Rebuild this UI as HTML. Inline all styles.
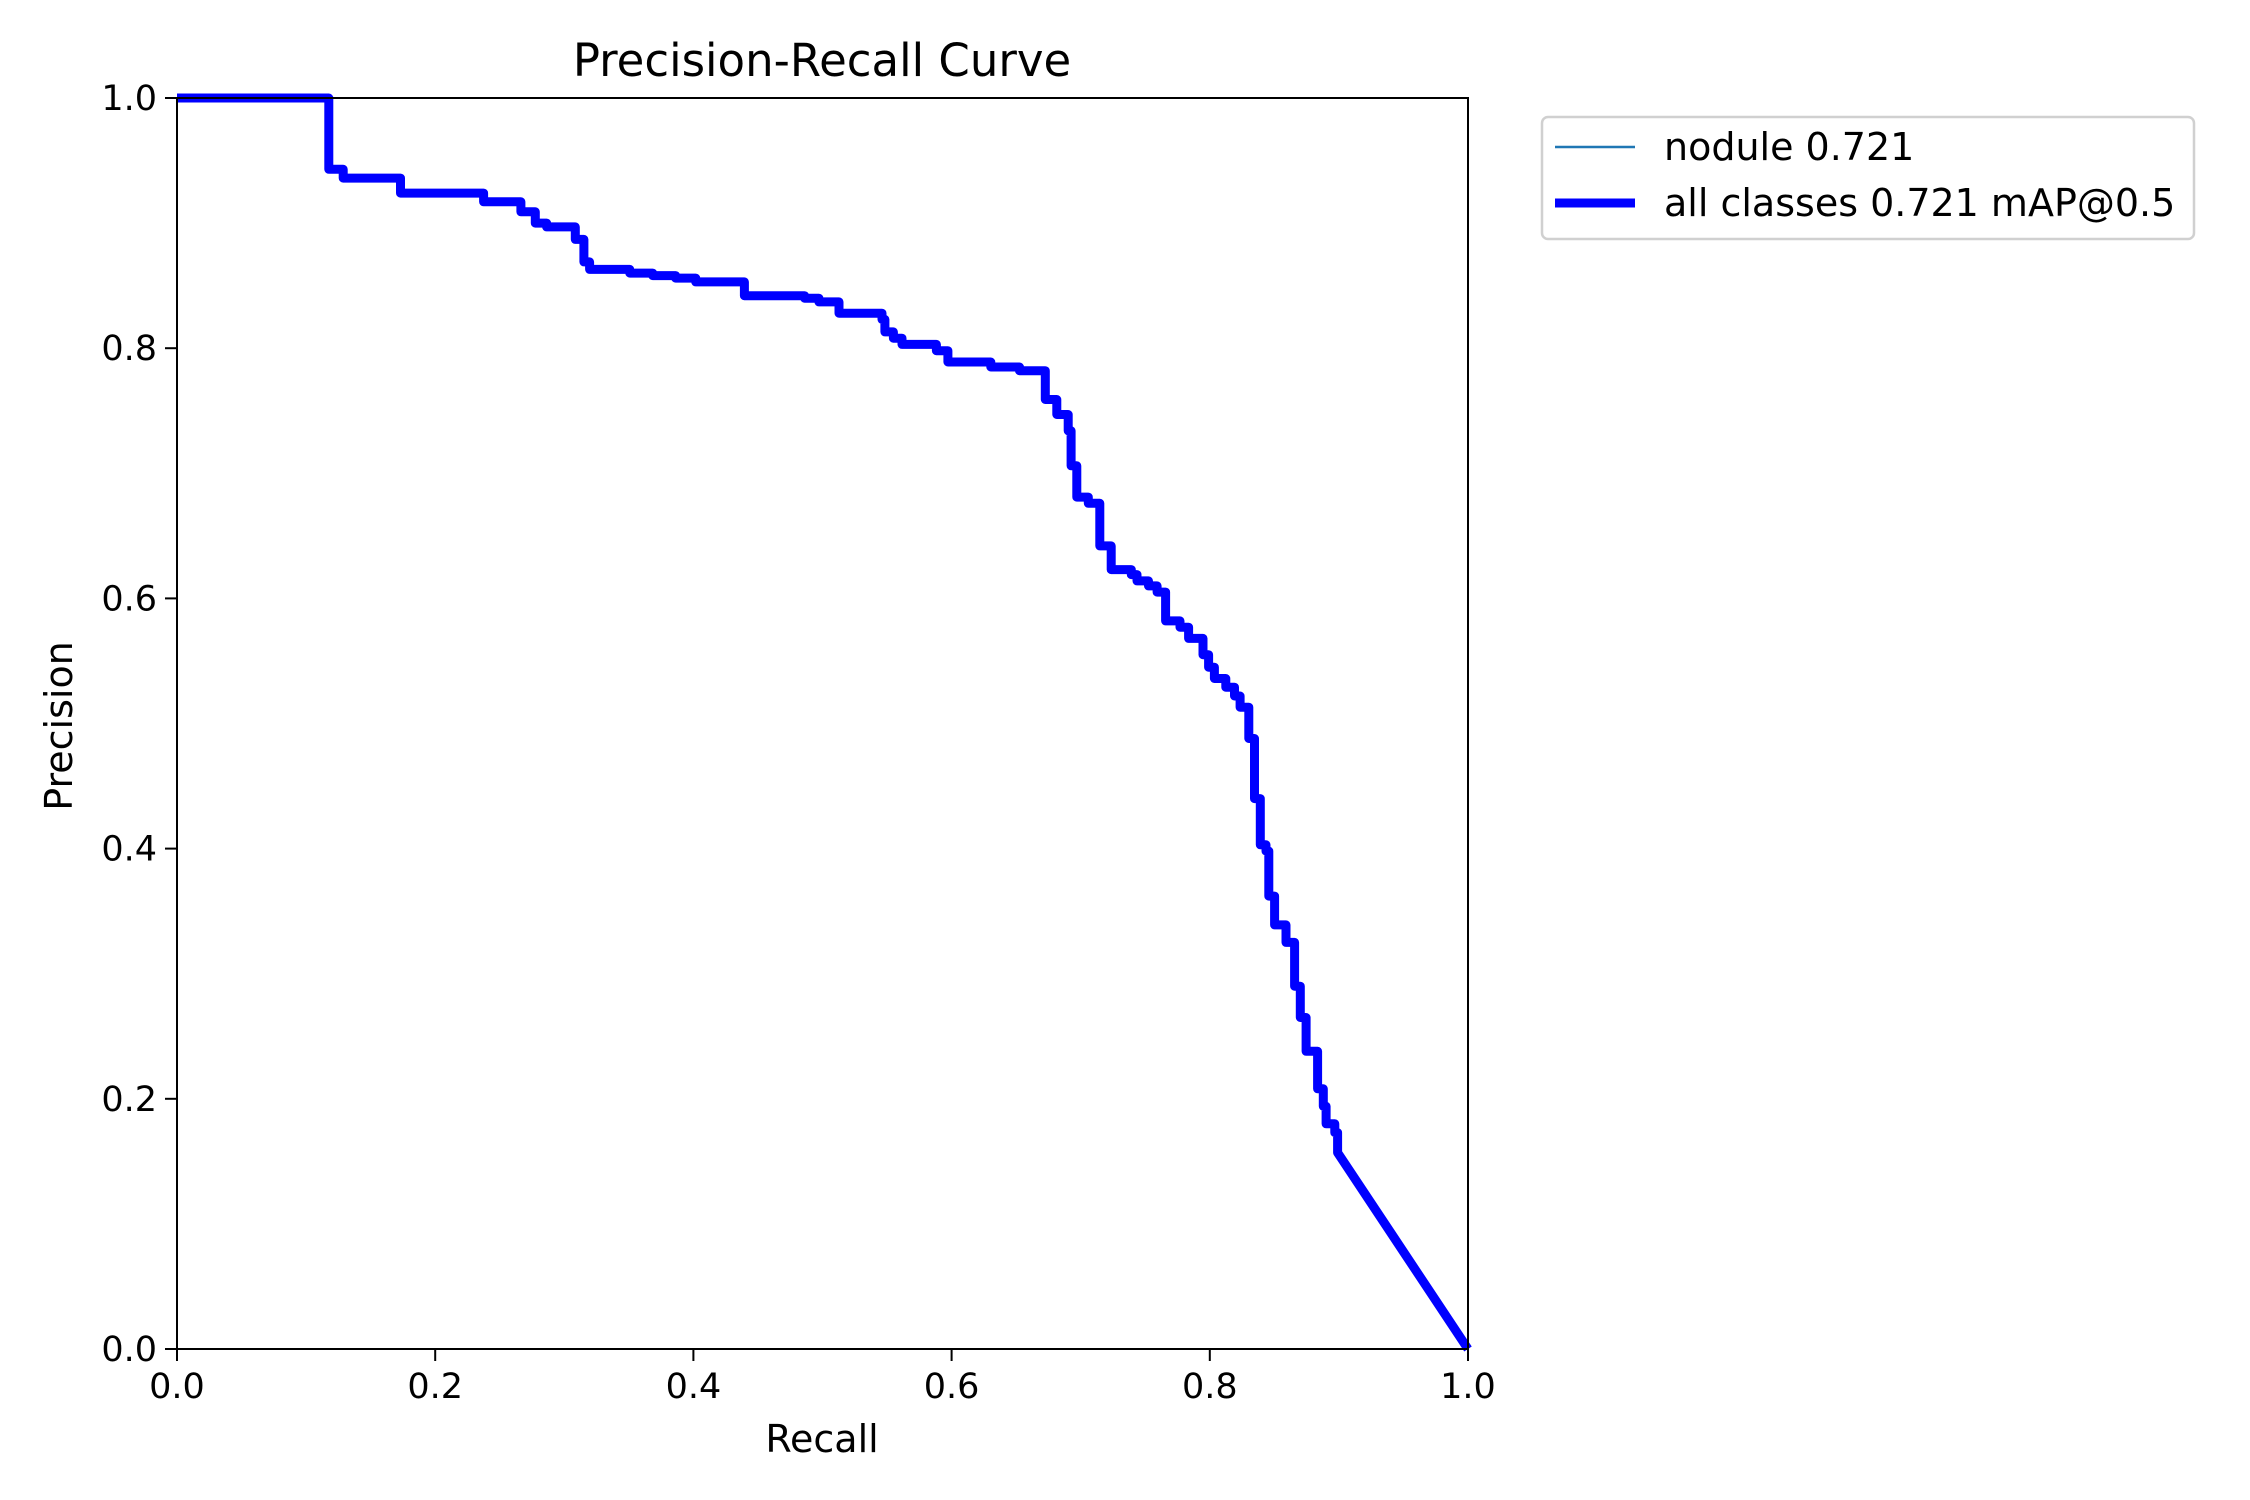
<!DOCTYPE html>
<html><head><meta charset="utf-8"><style>
html,body{margin:0;padding:0;background:#fff}
svg{display:block}
text{font-family:"DejaVu Sans","Liberation Sans",sans-serif;fill:#000}
</style></head><body>
<svg id="chart" width="2250" height="1500" viewBox="0 0 2250 1500" xmlns="http://www.w3.org/2000/svg">
<rect width="2250" height="1500" fill="#fff"/>
<text x="822" y="76" font-size="45" text-anchor="middle">Precision-Recall Curve</text>
<g id="plot"></g>
<text x="822" y="1452" font-size="38" text-anchor="middle">Recall</text>
<text x="0" y="0" font-size="38" text-anchor="middle" transform="translate(72,726) rotate(-90)">Precision</text>
<g>
<rect x="1542" y="117" width="652" height="122" rx="6" fill="#fff" stroke="#d0d0d0" stroke-width="2.5"/>
<line x1="1555" y1="147" x2="1635" y2="147" stroke="#1f77b4" stroke-width="2.5"/>
<text x="1664" y="160" font-size="38">nodule 0.721</text>
<line x1="1555" y1="203" x2="1635" y2="203" stroke="#0000ff" stroke-width="9"/>
<text x="1664" y="216" font-size="38">all classes 0.721 mAP@0.5</text>
</g>
</svg>
<script>
const recallSteps = [0,0.1176,0.1265,0.1287,0.1731,0.2375,0.2664,0.2775,0.2863,0.3085,0.3152,0.3196,0.3507,0.3685,0.3862,0.4018,0.4395,0.4861,0.4972,0.5128,0.5461,0.5483,0.5549,0.5616,0.5882,0.5971,0.6304,0.6526,0.6726,0.6815,0.6903,0.6926,0.697,0.7059,0.7148,0.7236,0.7392,0.7436,0.7525,0.7592,0.7658,0.7769,0.7836,0.7947,0.7991,0.8036,0.8124,0.8191,0.8235,0.8302,0.8346,0.8391,0.8435,0.8457,0.8502,0.859,0.8657,0.8701,0.8746,0.8835,0.8879,0.8901,0.8968,0.899];
const precisionSteps = [1.0,0.943,0.943,0.936,0.924,0.917,0.909,0.9,0.897,0.887,0.869,0.863,0.86,0.858,0.856,0.853,0.842,0.84,0.837,0.828,0.823,0.813,0.808,0.803,0.798,0.789,0.785,0.782,0.759,0.747,0.734,0.706,0.681,0.676,0.642,0.623,0.619,0.614,0.61,0.605,0.582,0.577,0.568,0.555,0.545,0.536,0.529,0.522,0.513,0.488,0.44,0.403,0.398,0.362,0.339,0.325,0.29,0.265,0.238,0.208,0.194,0.18,0.173,0.157];
const tailRecall = [1.0];
const tailPrecision = [0.0];
const xTicks = [0,0.2,0.4,0.6,0.8,1.0];
const yTicks = [0,0.2,0.4,0.6,0.8,1.0];
const xTickLabels = ["0.0","0.2","0.4","0.6","0.8","1.0"];
const yTickLabels = ["0.0","0.2","0.4","0.6","0.8","1.0"];

const L=177,R=1468,T=98,B=1349;
const sx=v=>L+v*(R-L), sy=v=>B-v*(B-T);
const NS="http://www.w3.org/2000/svg";
const g=document.getElementById('plot');
function mk(tag,attrs){const e=document.createElementNS(NS,tag);for(const k in attrs)e.setAttribute(k,attrs[k]);g.appendChild(e);return e;}

let pts=[];
for(let i=0;i<recallSteps.length;i++){
  pts.push([sx(recallSteps[i]),sy(precisionSteps[i])]);
  if(i+1<recallSteps.length) pts.push([sx(recallSteps[i+1]),sy(precisionSteps[i])]);
}
for(let i=0;i<tailRecall.length;i++) pts.push([sx(tailRecall[i]),sy(tailPrecision[i])]);
const d=pts.map((p,i)=>(i?'L':'M')+p[0].toFixed(1)+' '+p[1].toFixed(1)).join(' ');

const nod=mk('path',{d:d,fill:'none',stroke:'#1f77b4','stroke-width':2.5});


const all=mk('path',{d:d,fill:'none',stroke:'#0000ff','stroke-width':9,'stroke-linejoin':'round'});



const frame=mk('rect',{x:L,y:T,width:R-L,height:B-T,fill:'none',stroke:'#000','stroke-width':2});



xTicks.forEach((v,i)=>{
  const t=mk('line',{x1:sx(v),x2:sx(v),y1:B,y2:B+12,stroke:'#000','stroke-width':2});
  
  
  const l=mk('text',{x:sx(v),y:B+49,'font-size':35,'text-anchor':'middle'});
  l.textContent=xTickLabels[i];
  
  
});
yTicks.forEach((v,i)=>{
  const t=mk('line',{x1:L-12,x2:L,y1:sy(v),y2:sy(v),stroke:'#000','stroke-width':2});
  
  
  const l=mk('text',{x:L-20,y:sy(v)+12,'font-size':35,'text-anchor':'end'});
  l.textContent=yTickLabels[i];
  
  
});
</script>
</body></html>
